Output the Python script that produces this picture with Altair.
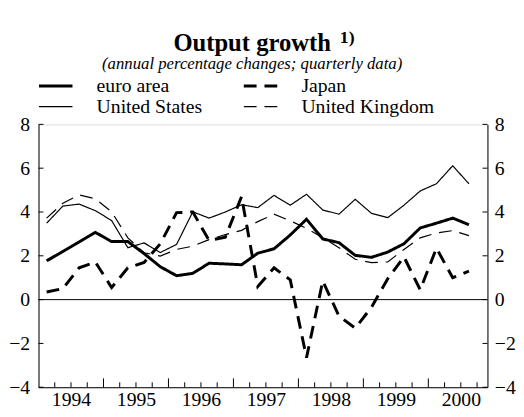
import altair as alt
import pandas as pd

FONT = "'Liberation Serif', 'Times New Roman', Times, serif"

# ---------------- data ----------------
years = [1994, 1995, 1996, 1997, 1998, 1999, 2000]
n_quarters = 27  # 1994Q1 .. 2000Q3

# legend order (filled column by column: row 1 = euro area, Japan)
series_order = ["euro area", "United States", "Japan", "United Kingdom"]

euro_area = [1.77, 2.2, 2.63, 3.07, 2.65, 2.65, 2.1, 1.5, 1.09, 1.2, 1.66, 1.63,
             1.59, 2.12, 2.32, 2.95, 3.67, 2.77, 2.6, 2.02, 1.93, 2.17, 2.55, 3.27,
             3.49, 3.72, 3.42]
united_states = [3.49, 4.27, 4.36, 4.06, 3.61, 2.37, 2.59, 2.15, 2.52, 4.01, 3.72, 4.0,
                 4.33, 4.2, 4.76, 4.31, 4.81, 4.09, 3.9, 4.58, 3.94, 3.74, 4.31, 4.96,
                 5.29, 6.11, 5.29]
japan = [0.35, 0.5, 1.45, 1.72, 0.55, 1.45, 1.7, 2.55, 3.97, 4.0, 2.7, 2.85,
         4.7, 0.6, 1.45, 0.9, -2.65, 0.85, -0.75, -1.3, -0.35, 0.95, 1.95, 0.45,
         2.35, 1.0, 1.3]
united_kingdom = [3.72, 4.4, 4.78, 4.6, 4.01, 2.82, 2.14, 1.99, 2.29, 2.44, 2.74, 2.97,
                  3.16, 3.56, 3.9, 3.6, 3.25, 2.82, 2.37, 1.84, 1.69, 1.72, 2.29, 2.82,
                  3.04, 3.15, 2.92]

y_ticks = [-4, -2, 0, 2, 4, 6, 8]

# ---------------- derived tables ----------------
quarter_labels = [f"{y}Q{q}" for y in years for q in (1, 2, 3, 4)][:n_quarters]
t_vals = [int(l[:4]) + (int(l[-1]) - 0.5) / 4 for l in quarter_labels]

values = {
    "euro area": euro_area,
    "Japan": japan,
    "United States": united_states,
    "United Kingdom": united_kingdom,
}
rows = []
for s in series_order:
    for lab, t, v in zip(quarter_labels, t_vals, values[s]):
        rows.append({"series": s, "quarter": lab, "t": t, "value": v})
df = pd.DataFrame(rows)

major = [float(y) for y in years[1:]]
minor = [y + q / 4 for y in years for q in (1, 2, 3)]

W, H = 456, 267
X_END = 2000.91
xscale = alt.Scale(domain=[1994.0, X_END], nice=False, zero=False)
yscale = alt.Scale(domain=[-4, 8], nice=False, zero=False)
half_year_px = W / (X_END - 1994.0) / 2

# one shared x-axis definition (used by every layer so the axes merge cleanly)
x_axis = alt.Axis(values=years, format="d", labelOffset=half_year_px,
                  ticks=False, grid=False, domainColor="black", domainWidth=1,
                  labelFont=FONT, labelFontSize=20, labelColor="black",
                  labelPadding=3, labelFlush=False, labelOverlap=False,
                  labelAlign="center", labelBaseline="top", title=None)

legend = alt.Legend(
    title=None, orient="none", legendX=-1, legendY=-49, columns=2,
    columnPadding=40, rowPadding=1, symbolType="stroke", symbolSize=1156,
    clipHeight=20,
    labelFont=FONT, labelFontSize=20, labelColor="black", labelOffset=23,
    symbolStrokeColor="black",
)

lines = alt.Chart(df).mark_line(strokeCap="butt", strokeJoin="miter").encode(
    x=alt.X("t:Q", scale=xscale, title=None, axis=x_axis),
    y=alt.Y("value:Q", scale=yscale, title=None,
            axis=alt.Axis(orient="left", values=y_ticks, ticks=False, grid=False,
                          domainColor="black", domainWidth=1, labelFont=FONT,
                          labelFontSize=20, labelColor="black", labelPadding=9)),
    color=alt.Color("series:N", scale=alt.Scale(domain=series_order, range=["black"] * 4),
                    legend=legend),
    strokeDash=alt.StrokeDash("series:N",
                              scale=alt.Scale(domain=series_order,
                                              range=[[1, 0], [1, 0], [13, 8], [13, 8]]),
                              legend=legend),
    strokeWidth=alt.StrokeWidth("series:N",
                                scale=alt.Scale(type="ordinal", domain=series_order,
                                                range=[3, 1.2, 3, 1.2]),
                                legend=legend),
    order=alt.Order("t:Q"),
)

zero = alt.Chart(pd.DataFrame({"v": [0]})).mark_rule(color="black", strokeWidth=1).encode(
    y=alt.Y("v:Q", scale=yscale, axis=None)
)

minor_ticks = alt.Chart(pd.DataFrame({"t": minor})).mark_rule(color="black", strokeWidth=1).encode(
    x=alt.X("t:Q", scale=xscale, title=None, axis=x_axis), y=alt.value(H), y2=alt.value(H - 5)
)
major_ticks = alt.Chart(pd.DataFrame({"t": major})).mark_rule(color="black", strokeWidth=1).encode(
    x=alt.X("t:Q", scale=xscale, title=None, axis=x_axis), y=alt.value(H), y2=alt.value(H - 9)
)

left_ticks = alt.Chart(pd.DataFrame({"v": y_ticks})).mark_rule(color="black", strokeWidth=1).encode(
    y=alt.Y("v:Q", scale=yscale, axis=None), x=alt.value(0), x2=alt.value(5)
)
right_ticks = alt.Chart(pd.DataFrame({"v": y_ticks})).mark_rule(color="black", strokeWidth=1).encode(
    y=alt.Y("v:Q", scale=yscale, title=None,
            axis=alt.Axis(orient="right", values=y_ticks, ticks=False, grid=False,
                          domainColor="black", domainWidth=1, labelFont=FONT,
                          labelFontSize=20, labelColor="black", labelPadding=7)),
    x=alt.value(W), x2=alt.value(W - 5)
)

footnote = alt.Chart(pd.DataFrame({"s": ["1)"]})).mark_text(
    font=FONT, fontSize=18, fontWeight="bold", align="left", baseline="alphabetic",
    color="black"
).encode(text="s:N", x=alt.value(306), y=alt.value(-83))

chart = alt.layer(
    lines, zero, minor_ticks, major_ticks, left_ticks, right_ticks, footnote
).resolve_scale(y="independent").properties(
    width=W, height=H,
    padding={"left": 31, "top": 115, "right": 29, "bottom": 25},
    autosize=alt.AutoSizeParams(type="none"),
    title=alt.TitleParams(
        "Output growth", subtitle="(annual percentage changes; quarterly data)",
        font=FONT, fontSize=25, fontWeight="bold", color="black",
        subtitleFont=FONT, subtitleFontSize=17, subtitleFontStyle="italic",
        subtitleColor="black", anchor="middle", dx=-11, offset=-44, subtitlePadding=1,
    ),
).configure_view(stroke=None).configure(background="white")

chart.save("out.html", embed_options={"renderer": "svg", "actions": False})
